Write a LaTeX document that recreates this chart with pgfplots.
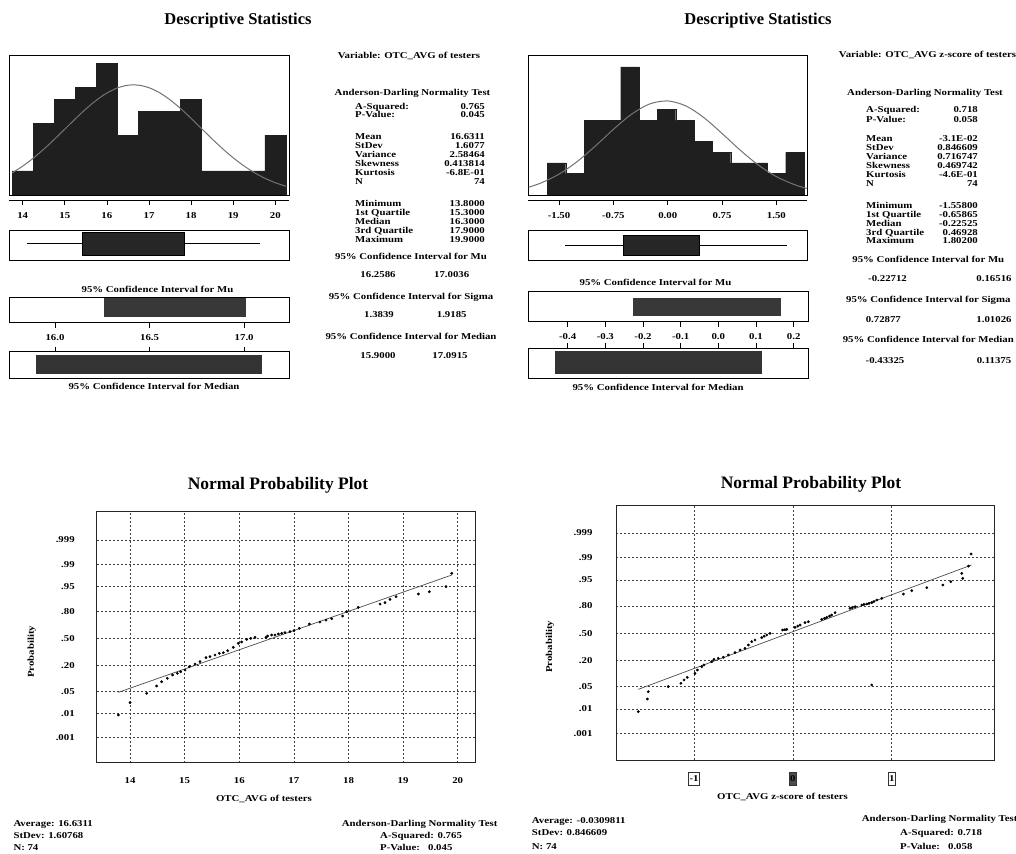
\documentclass[border=0pt]{standalone}
\usepackage{fontspec}
\setmainfont{Liberation Serif}
\newfontfamily\smfont[FakeStretch=1.2]{Liberation Serif}
\newcommand{\sm}{\smfont\bfseries\fontsize{9}{9}\selectfont}
\usepackage{pgfplots}
\pgfplotsset{compat=1.18}
\pgfplotsset{
 panel/.style={scale only axis, anchor=south west, axis line style={black, line width=0.7pt},
   tick label style={font=\sm}, label style={font=\sm},
   /pgf/number format/assume math mode=true, tick style={black, line width=0.6pt}},
 blank/.style={panel, xtick=\empty, ytick=\empty, ymin=0, ymax=1},
 tickax/.style={panel, height=8pt, ymin=0, ymax=1, axis x line=bottom, axis y line=none,
   axis line style={-, line width=0.7pt}, tick align=outside, major tick length=5pt,
   xticklabel style={yshift=-4pt}},
 ciax/.style={panel, ymin=0, ymax=1, ytick=\empty, tick align=outside, major tick length=5pt},
 npp/.style={panel, grid=major, grid style={black!75, line width=0.6pt, dash pattern=on 2pt off 2pt},
   major tick length=0pt, ytick={-3.090,-2.326,-1.645,-0.8416,0,0.8416,1.645,2.326,3.090},
   yticklabels={.001,.01,.05,.20,.50,.80,.95,.99,.999},
   axis line style={black!85, line width=0.9pt}},
 dots/.style={only marks, mark=*, mark size=1.2pt, black},
}
\begin{document}
\begin{tikzpicture}[x=1pt,y=1pt]
\useasboundingbox (0,0) rectangle (1016,853);

% ---------- titles ----------
\node[font=\bfseries\fontsize{16.5}{16.5}\selectfont, anchor=base, inner sep=0] at (238,853-25) {Descriptive Statistics};
\node[font=\bfseries\fontsize{16.5}{16.5}\selectfont, anchor=base, inner sep=0] at (758,853-25) {Descriptive Statistics};
\node[font=\bfseries\fontsize{17.5}{17.5}\selectfont, anchor=base, inner sep=0] at (278,853-489.5) {Normal Probability Plot};
\node[font=\bfseries\fontsize{17.5}{17.5}\selectfont, anchor=base, inner sep=0] at (811,853-488.5) {Normal Probability Plot};

% ---------- top-left histogram ----------
\begin{axis}[blank, at={(9pt,658pt)}, width=280pt, height=140pt, xmin=13.675, xmax=20.325, ymax=11.67]
\addplot[ybar interval, fill=black!88, draw=black!88] coordinates {(13.75,2)(14.25,6)(14.75,8)(15.25,9)(15.75,11)(16.25,5)(16.75,7)(17.25,7)(17.75,8)(18.25,2)(18.75,2)(19.25,2)(19.75,5)(20.25,0)};
\addplot[smooth, black!55, line width=1pt] coordinates {(13.75,1.842)(14,2.406)(14.25,3.066)(14.5,3.813)(14.75,4.630)(15,5.487)(15.25,6.347)(15.5,7.168)(15.75,7.900)(16,8.500)(16.25,8.926)(16.5,9.150)(16.75,9.155)(17,8.942)(17.25,8.524)(17.5,7.932)(17.75,7.205)(18,6.389)(18.25,5.528)(18.5,4.671)(18.75,3.851)(19,3.100)(19.25,2.436)(19.5,1.867)(19.75,1.398)(20,1.022)(20.25,0.729)};
\end{axis}
\begin{axis}[tickax, at={(9pt,653pt)}, width=280pt, xmin=13.675, xmax=20.325, xtick={14,15,16,17,18,19,20}]
\end{axis}
\begin{axis}[blank, at={(9pt,593pt)}, width=280pt, height=30pt, xmin=13.675, xmax=20.325]
\addplot[black, line width=0.9pt] coordinates {(14.1,0.555)(19.64,0.555)};
\addplot[fill=black!85, draw=black] coordinates {(15.42,0.167)(17.84,0.167)(17.84,0.943)(15.42,0.943)} --cycle;
\end{axis}
\begin{axis}[ciax, at={(9pt,530.3pt)}, width=280pt, height=25.4pt, xmin=15.757, xmax=17.237,
  xtick={16,16.5,17}, xticklabels={16.0,16.5,17.0}, xtick pos=left, xticklabel style={yshift=-3pt}]
\addplot[fill=black!78, draw=black!78] coordinates {(16.2586,0.236)(17.0036,0.236)(17.0036,0.96)(16.2586,0.96)} --cycle;
\end{axis}
\begin{axis}[ciax, at={(9pt,474.7pt)}, width=280pt, height=26.6pt, xmin=15.757, xmax=17.237,
  xtick={16,16.5,17}, xticklabels={}, xtick pos=right]
\addplot[fill=black!80, draw=black!80] coordinates {(15.9,0.19)(17.0915,0.19)(17.0915,0.876)(15.9,0.876)} --cycle;
\end{axis}
\node[font=\sm, anchor=base, inner sep=0] at (157.5,853-292.5) {95\% Confidence Interval for Mu};
\node[font=\sm, anchor=base, inner sep=0] at (154,853-390) {95\% Confidence Interval for Median};

% ---------- top-left statistics ----------
\node[font=\sm, anchor=base, inner sep=0] at (409,853-59) {Variable: OTC\_AVG of testers};
\node[font=\sm, anchor=base, inner sep=0] at (412.5,853-96) {Anderson-Darling Normality Test};
\foreach \lab/\val/\yy in {A-Squared:/0.765/109.7, P-Value:/0.045/118, Mean/16.6311/139.7, StDev/1.6077/149, Variance/2.58464/157.7, Skewness/0.413814/167, Kurtosis/-6.8E-01/175.7, N/74/184.7, Minimum/13.8000/207, 1st Quartile/15.3000/215.7, Median/16.3000/224.7, 3rd Quartile/17.9000/233.7, Maximum/19.9000/242.3}
{\node[font=\sm, anchor=base west, inner sep=0] at (355,853-\yy) {\lab};
 \node[font=\sm, anchor=base east, inner sep=0] at (485,853-\yy) {\val};}
\node[font=\sm, anchor=base, inner sep=0] at (411,853-260) {95\% Confidence Interval for Mu};
\node[font=\sm, anchor=base, inner sep=0] at (378,853-278) {16.2586};
\node[font=\sm, anchor=base, inner sep=0] at (451.7,853-278) {17.0036};
\node[font=\sm, anchor=base, inner sep=0] at (411,853-300) {95\% Confidence Interval for Sigma};
\node[font=\sm, anchor=base, inner sep=0] at (379,853-318) {1.3839};
\node[font=\sm, anchor=base, inner sep=0] at (451.7,853-318) {1.9185};
\node[font=\sm, anchor=base, inner sep=0] at (411,853-340) {95\% Confidence Interval for Median};
\node[font=\sm, anchor=base, inner sep=0] at (378,853-359) {15.9000};
\node[font=\sm, anchor=base, inner sep=0] at (450,853-359) {17.0915};

% ---------- top-right histogram ----------
\begin{axis}[blank, at={(528.3pt,658pt)}, width=279pt, height=140pt, xmin=-1.924, xmax=1.926, ymax=13.12]
\addplot[ybar interval, fill=black!88, draw=black!88] coordinates {(-1.661,3)(-1.408,2)(-1.155,7)(-0.902,7)(-0.649,12)(-0.396,7)(-0.143,8)(0.110,7)(0.363,5)(0.616,4)(0.869,3)(1.122,3)(1.375,2)(1.628,4)(1.881,0)};
\addplot[smooth, black!55, line width=1pt] coordinates {(-1.92,0.732)(-1.75,1.123)(-1.5,1.957)(-1.25,3.128)(-1,4.581)(-0.75,6.150)(-0.5,7.566)(-0.25,8.530)(0,8.814)(0.25,8.347)(0.5,7.245)(0.75,5.763)(1,4.202)(1.25,2.807)(1.5,1.720)(1.75,0.965)(1.92,0.620)};
\end{axis}
\begin{axis}[tickax, at={(528.3pt,653pt)}, width=279pt, xmin=-1.924, xmax=1.926, xtick={-1.5,-0.75,0,0.75,1.5}, xticklabels={-1.50,-0.75,0.00,0.75,1.50}]
\end{axis}
\begin{axis}[blank, at={(528.3pt,593pt)}, width=279pt, height=29.3pt, xmin=-1.924, xmax=1.926]
\addplot[black, line width=0.9pt] coordinates {(-1.417,0.51)(1.642,0.51)};
\addplot[fill=black!85, draw=black] coordinates {(-0.62,0.17)(0.44,0.17)(0.44,0.853)(-0.62,0.853)} --cycle;
\end{axis}
\begin{axis}[ciax, at={(528.3pt,531.3pt)}, width=279.7pt, height=30pt, xmin=-0.5044, xmax=0.2381,
  xtick={-0.4,-0.3,-0.2,-0.1,0,0.1,0.2}, xticklabels={-0.4,-0.3,-0.2,-0.1,0.0,0.1,0.2}, xtick pos=left, xticklabel style={yshift=-3pt}]
\addplot[fill=black!78, draw=black!78] coordinates {(-0.22712,0.2)(0.16516,0.2)(0.16516,0.79)(-0.22712,0.79)} --cycle;
\end{axis}
\begin{axis}[ciax, at={(528.3pt,474.7pt)}, width=279.7pt, height=30pt, xmin=-0.5044, xmax=0.2381,
  xtick={-0.4,-0.3,-0.2,-0.1,0,0.1,0.2}, xticklabels={}, xtick pos=right]
\addplot[fill=black!80, draw=black!80] coordinates {(-0.43325,0.167)(0.11375,0.167)(0.11375,0.887)(-0.43325,0.887)} --cycle;
\end{axis}
\node[font=\sm, anchor=base, inner sep=0] at (655.5,853-286) {95\% Confidence Interval for Mu};
\node[font=\sm, anchor=base, inner sep=0] at (658,853-391) {95\% Confidence Interval for Median};

% ---------- top-right statistics ----------
\node[font=\sm, anchor=base, inner sep=0] at (927.5,853-58) {Variable: OTC\_AVG z-score of testers};
\node[font=\sm, anchor=base, inner sep=0] at (925,853-96) {Anderson-Darling Normality Test};
\foreach \lab/\val/\yy in {A-Squared:/0.718/113, P-Value:/0.058/122.3, Mean/-3.1E-02/141.7, StDev/0.846609/150.3, Variance/0.716747/159.7, Skewness/0.469742/169, Kurtosis/-4.6E-01/178, N/74/187, Minimum/-1.55800/208.7, 1st Quartile/-0.65865/217.3, Median/-0.22525/226.3, 3rd Quartile/0.46928/235.3, Maximum/1.80200/244}
{\node[font=\sm, anchor=base west, inner sep=0] at (866,853-\yy) {\lab};
 \node[font=\sm, anchor=base east, inner sep=0] at (978,853-\yy) {\val};}
\node[font=\sm, anchor=base, inner sep=0] at (928.3,853-263) {95\% Confidence Interval for Mu};
\node[font=\sm, anchor=base, inner sep=0] at (887.5,853-282) {-0.22712};
\node[font=\sm, anchor=base, inner sep=0] at (994,853-282) {0.16516};
\node[font=\sm, anchor=base, inner sep=0] at (928.3,853-303) {95\% Confidence Interval for Sigma};
\node[font=\sm, anchor=base, inner sep=0] at (883.3,853-323) {0.72877};
\node[font=\sm, anchor=base, inner sep=0] at (994,853-323) {1.01026};
\node[font=\sm, anchor=base, inner sep=0] at (928.3,853-343) {95\% Confidence Interval for Median};
\node[font=\sm, anchor=base, inner sep=0] at (885,853-364) {-0.43325};
\node[font=\sm, anchor=base, inner sep=0] at (994,853-364) {0.11375};

% ---------- bottom-left normal probability plot ----------
\begin{axis}[npp, at={(96.7pt,90.3pt)}, width=378.3pt, height=251pt, xmin=13.39, xmax=20.316, ymin=-3.875, ymax=3.97,
  xtick={14,15,16,17,18,19,20}, xticklabel style={yshift=-11pt}, yticklabel style={xshift=-18.5pt},
  xlabel={OTC\_AVG of testers}, ylabel={Probability},
  xlabel style={at={(axis description cs:0.442,-0.146)}, anchor=center},
  ylabel style={at={(axis description cs:-0.172,0.442)}, anchor=center}]
\addplot[black!70, line width=0.7pt] coordinates {(13.786,-1.676)(19.889,1.99)};
\addplot[dots] coordinates {(13.786,-2.384)(14.000,-1.999)(14.305,-1.707)(14.488,-1.478)(14.579,-1.343)(14.683,-1.238)(14.781,-1.134)(14.866,-1.082)(14.927,-1.030)(15.007,-0.978)(15.086,-0.874)(15.190,-0.791)(15.281,-0.718)(15.391,-0.593)(15.464,-0.562)(15.556,-0.509)(15.635,-0.457)(15.708,-0.437)(15.788,-0.374)(15.891,-0.270)(15.983,-0.145)(16.044,-0.103)(16.136,-0.020)(16.209,0.011)(16.288,0.043)(16.490,0.043)(16.520,0.084)(16.593,0.116)(16.654,0.116)(16.715,0.147)(16.776,0.168)(16.837,0.188)(16.929,0.220)(17.002,0.251)(17.100,0.324)(17.283,0.459)(17.478,0.522)(17.588,0.584)(17.692,0.626)(17.893,0.709)(17.967,0.845)(18.180,0.980)(18.577,1.084)(18.668,1.126)(18.760,1.230)(18.870,1.313)(19.279,1.397)(19.480,1.470)(19.785,1.626)(19.889,2.043)};
\end{axis}
\node[font=\sm, anchor=base west, inner sep=0] at (13.3,853-826) {Average: 16.6311};
\node[font=\sm, anchor=base west, inner sep=0] at (13.3,853-839) {StDev: 1.60768};
\node[font=\sm, anchor=base west, inner sep=0] at (13.3,853-850) {N: 74};
\node[font=\sm, anchor=base west, inner sep=0] at (341.7,853-826) {Anderson-Darling Normality Test};
\node[font=\sm, anchor=base west, inner sep=0] at (380,853-839) {A-Squared: 0.765};
\node[font=\sm, anchor=base west, inner sep=0] at (380,853-850) {P-Value:\ \ \ 0.045};

% ---------- bottom-right normal probability plot ----------
\begin{axis}[npp, at={(616pt,93pt)}, width=378pt, height=255pt, xmin=-1.789, xmax=2.035, ymin=-3.90, ymax=3.95,
  xtick={-1,1}, xticklabels={-1,1}, xticklabel style={draw=black!80, inner xsep=1pt, inner ysep=3.5pt, yshift=-11.7pt},
  extra x ticks={0}, extra x tick labels={0}, extra x tick style={grid=major, xticklabel style={fill=black!70}},
  yticklabel style={xshift=-20pt},
  xlabel={OTC\_AVG z-score of testers}, ylabel={Probability},
  xlabel style={at={(axis description cs:0.4405,-0.144)}, anchor=center},
  ylabel style={at={(axis description cs:-0.1746,0.444)}, anchor=center}]
\addplot[black!70, line width=0.7pt] coordinates {(-1.563,-1.724)(1.807,2.102)};
\addplot[dots] coordinates {(-1.563,-2.411)(-1.472,-2.022)(-1.462,-1.796)(-1.260,-1.642)(-1.132,-1.539)(-1.101,-1.437)(-1.068,-1.355)(-0.990,-1.232)(-0.966,-1.129)(-0.922,-1.027)(-0.899,-0.975)(-0.821,-0.873)(-0.798,-0.801)(-0.754,-0.770)(-0.703,-0.739)(-0.653,-0.668)(-0.585,-0.596)(-0.534,-0.514)(-0.484,-0.462)(-0.450,-0.360)(-0.416,-0.258)(-0.383,-0.206)(-0.315,-0.134)(-0.290,-0.090)(-0.264,-0.052)(-0.231,-0.001)(-0.103,0.102)(-0.080,0.110)(-0.062,0.122)(0.022,0.184)(0.050,0.220)(0.073,0.255)(0.123,0.327)(0.157,0.358)(0.292,0.430)(0.320,0.460)(0.343,0.491)(0.370,0.530)(0.393,0.563)(0.427,0.635)(0.579,0.768)(0.600,0.790)(0.630,0.819)(0.697,0.871)(0.720,0.890)(0.748,0.902)(0.770,0.920)(0.798,0.943)(0.820,0.980)(0.849,1.025)(0.900,1.076)(0.798,-1.591)(1.119,1.209)(1.203,1.312)(1.355,1.404)(1.517,1.486)(1.598,1.589)(1.709,1.845)(1.719,1.691)(1.777,2.071)(1.804,2.440)};
\end{axis}
\node[font=\sm, anchor=base west, inner sep=0] at (531.7,853-823) {Average: -0.0309811};
\node[font=\sm, anchor=base west, inner sep=0] at (531.7,853-836) {StDev: 0.846609};
\node[font=\sm, anchor=base west, inner sep=0] at (531.7,853-849.5) {N: 74};
\node[font=\sm, anchor=base west, inner sep=0] at (861.7,853-822) {Anderson-Darling Normality Test};
\node[font=\sm, anchor=base west, inner sep=0] at (900,853-836) {A-Squared: 0.718};
\node[font=\sm, anchor=base west, inner sep=0] at (900,853-849.5) {P-Value:\ \ \ 0.058};
\end{tikzpicture}
\end{document}
